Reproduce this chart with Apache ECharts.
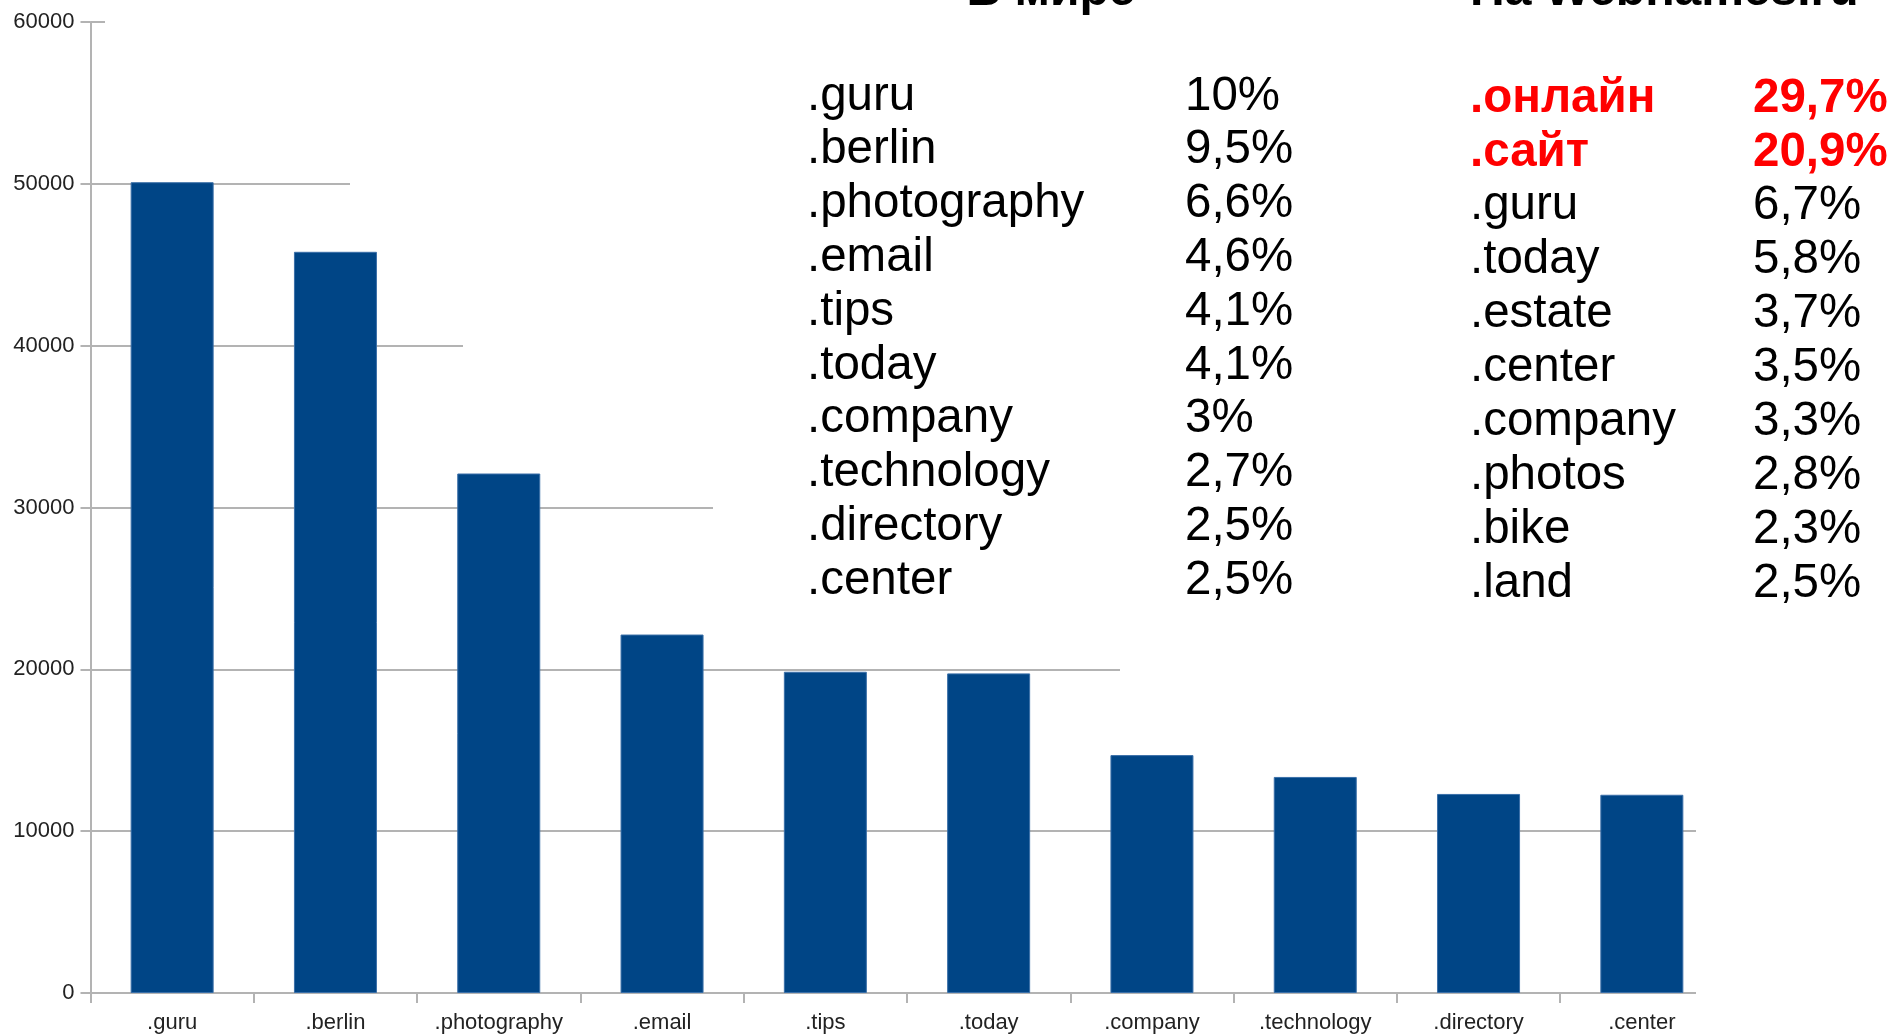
<!DOCTYPE html>
<html><head><meta charset="utf-8">
<script src="https://cdn.jsdelivr.net/npm/echarts@6/dist/echarts.min.js"></script>
<style>html,body{margin:0;padding:0;background:#fff}#c{width:1894px;height:1036px}</style>
</head><body><div id="c"></div>
<script>
const categories = ['.guru', '.berlin', '.photography', '.email', '.tips', '.today', '.company', '.technology', '.directory', '.center'];
const values = [50100, 45800, 32100, 22150, 19850, 19750, 14700, 13350, 12300, 12250];
const yMin = 0, yMax = 60000, yStep = 10000;

const worldTitle = 'В мире';
const worldNames = ['.guru', '.berlin', '.photography', '.email', '.tips', '.today', '.company', '.technology', '.directory', '.center'];
const worldShares = ['10%', '9,5%', '6,6%', '4,6%', '4,1%', '4,1%', '3%', '2,7%', '2,5%', '2,5%'];

const webTitle = 'На Webnames.ru';
const webNames = ['.онлайн', '.сайт', '.guru', '.today', '.estate', '.center', '.company', '.photos', '.bike', '.land'];
const webShares = ['29,7%', '20,9%', '6,7%', '5,8%', '3,7%', '3,5%', '3,3%', '2,8%', '2,3%', '2,5%'];
const webHighlight = [true, true, false, false, false, false, false, false, false, false];

const FONT = '"Liberation Sans", Arial, sans-serif';
const chart = echarts.init(document.getElementById('c'), null, {renderer: 'canvas'});

const graphics = [];
// white panels that hide parts of the gridlines (as in the slide)
const covers = [[105, 170], [350, 300], [463, 460], [713, 620], [1120, 780], [1696, 1036]];
covers.forEach(c => graphics.push({type: 'rect', z: 1, silent: true,
  shape: {x: c[0], y: 0, width: 1894 - c[0], height: c[1]}, style: {fill: '#ffffff'}}));

graphics.push({type: 'text', z: 5, style: {text: worldTitle, x: 1051, y: 16, align: 'center', verticalAlign: 'bottom',
  font: 'bold 48px ' + FONT, fill: '#000'}});
graphics.push({type: 'text', z: 5, style: {text: webTitle, x: 1470, y: 16, align: 'left', verticalAlign: 'bottom',
  font: 'bold 48px ' + FONT, fill: '#000'}});

worldNames.forEach((n, i) => {
  const y = 96.5 + i * 53.8;
  graphics.push({type: 'text', z: 5, style: {text: n, x: 807, y: y, verticalAlign: 'middle', font: '47.5px ' + FONT, fill: '#000'}});
  graphics.push({type: 'text', z: 5, style: {text: worldShares[i], x: 1185, y: y, verticalAlign: 'middle', font: '47.5px ' + FONT, fill: '#000'}});
});
webNames.forEach((n, i) => {
  const y = 98.6 + i * 53.9;
  const hl = webHighlight[i];
  const f = (hl ? 'bold ' : '') + '47.5px ' + FONT;
  const col = hl ? '#ff0000' : '#000';
  graphics.push({type: 'text', z: 5, style: {text: n, x: 1470, y: y, verticalAlign: 'middle', font: f, fill: col}});
  graphics.push({type: 'text', z: 5, style: {text: webShares[i], x: 1753, y: y, verticalAlign: 'middle', font: f, fill: col}});
});

chart.setOption({
  animation: false,
  backgroundColor: '#ffffff',
  grid: {left: 90.5, right: 170.5, top: 22, bottom: 43, containLabel: false},
  xAxis: {
    type: 'category', data: categories, boundaryGap: true,
    axisLine: {lineStyle: {color: '#b3b3b3', width: 2}},
    axisTick: {show: true, length: 10, interval: 0, lineStyle: {color: '#b3b3b3', width: 2}},
    axisLabel: {color: '#222', fontSize: 22, fontFamily: FONT, margin: 19, interval: 0}
  },
  yAxis: {
    type: 'value', min: yMin, max: yMax, interval: yStep,
    axisLine: {show: true, lineStyle: {color: '#b3b3b3', width: 2}},
    axisTick: {show: true, length: 10, lineStyle: {color: '#b3b3b3', width: 2}},
    axisLabel: {color: '#222', fontSize: 22, fontFamily: FONT, margin: 16, formatter: v => String(v)},
    splitLine: {show: true, lineStyle: {color: '#b3b3b3', width: 2}}
  },
  series: [{
    type: 'bar', data: values, barWidth: 83, z: 2,
    itemStyle: {color: '#004586', borderColor: '#3a6fa8', borderWidth: 1}
  }],
  graphic: graphics
});
</script>
</body></html>
